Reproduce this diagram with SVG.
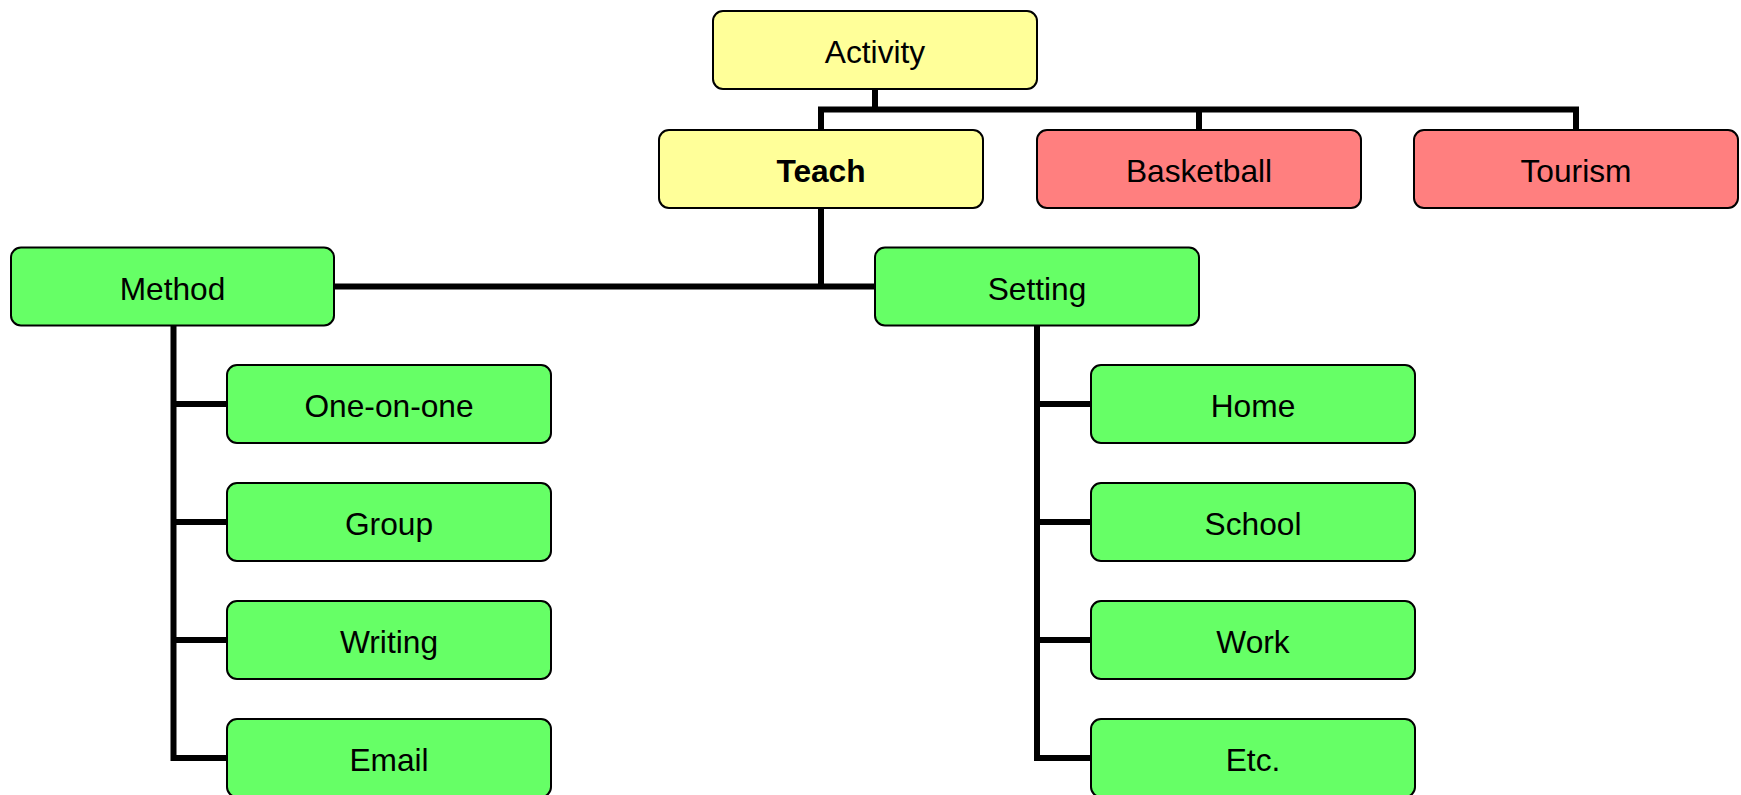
<svg xmlns="http://www.w3.org/2000/svg" width="1741" height="795" viewBox="0 0 1741 795">
<style>
.box{stroke:#000;stroke-width:2}
.y{fill:#FFFF99}
.r{fill:#FF7F7F}
.g{fill:#66FF66}
.t{font-family:"Liberation Sans",Arial,sans-serif;font-size:31.7px;fill:#000;text-anchor:middle}
.b{font-weight:bold}
.c{fill:none;stroke:#000;stroke-width:6;stroke-linejoin:miter}
</style>
<rect width="1741" height="795" fill="#fff"/>
<g id="connectors">
<path class="c" d="M875 89 V109.5 M821 130 V109.5 H1576 V130 M1199 109.5 V130"/>
<path class="c" d="M821 208 V286.5 M334 286.5 H875"/>
<path class="c" d="M173.5 325.5 V758 H227 M173.5 404 H227 M173.5 522 H227 M173.5 640 H227"/>
<path class="c" d="M1037 325.5 V758 H1091 M1037 404 H1091 M1037 522 H1091 M1037 640 H1091"/>
</g>
<g id="activity"><rect class="box y" x="713" y="11" width="324" height="78" rx="10"/><text class="t" x="875" y="63">Activity</text></g>
<g id="teach"><rect class="box y" x="659" y="130" width="324" height="78" rx="10"/><text class="t b" x="821" y="181.5">Teach</text></g>
<g id="basketball"><rect class="box r" x="1037" y="130" width="324" height="78" rx="10"/><text class="t" x="1199" y="181.5">Basketball</text></g>
<g id="tourism"><rect class="box r" x="1414" y="130" width="324" height="78" rx="10"/><text class="t" x="1576" y="181.5">Tourism</text></g>
<g id="method"><rect class="box g" x="11" y="247.5" width="323" height="78" rx="10"/><text class="t" x="172.5" y="299.5">Method</text></g>
<g id="setting"><rect class="box g" x="875" y="247.5" width="324" height="78" rx="10"/><text class="t" x="1037" y="299.5">Setting</text></g>
<g id="one-on-one"><rect class="box g" x="227" y="365" width="324" height="78" rx="10"/><text class="t" x="389" y="417">One-on-one</text></g>
<g id="group"><rect class="box g" x="227" y="483" width="324" height="78" rx="10"/><text class="t" x="389" y="535">Group</text></g>
<g id="writing"><rect class="box g" x="227" y="601" width="324" height="78" rx="10"/><text class="t" x="389" y="653">Writing</text></g>
<g id="email"><rect class="box g" x="227" y="719" width="324" height="78" rx="10"/><text class="t" x="389" y="771">Email</text></g>
<g id="home"><rect class="box g" x="1091" y="365" width="324" height="78" rx="10"/><text class="t" x="1253" y="417">Home</text></g>
<g id="school"><rect class="box g" x="1091" y="483" width="324" height="78" rx="10"/><text class="t" x="1253" y="535">School</text></g>
<g id="work"><rect class="box g" x="1091" y="601" width="324" height="78" rx="10"/><text class="t" x="1253" y="653">Work</text></g>
<g id="etc"><rect class="box g" x="1091" y="719" width="324" height="78" rx="10"/><text class="t" x="1253" y="771">Etc.</text></g>
</svg>
